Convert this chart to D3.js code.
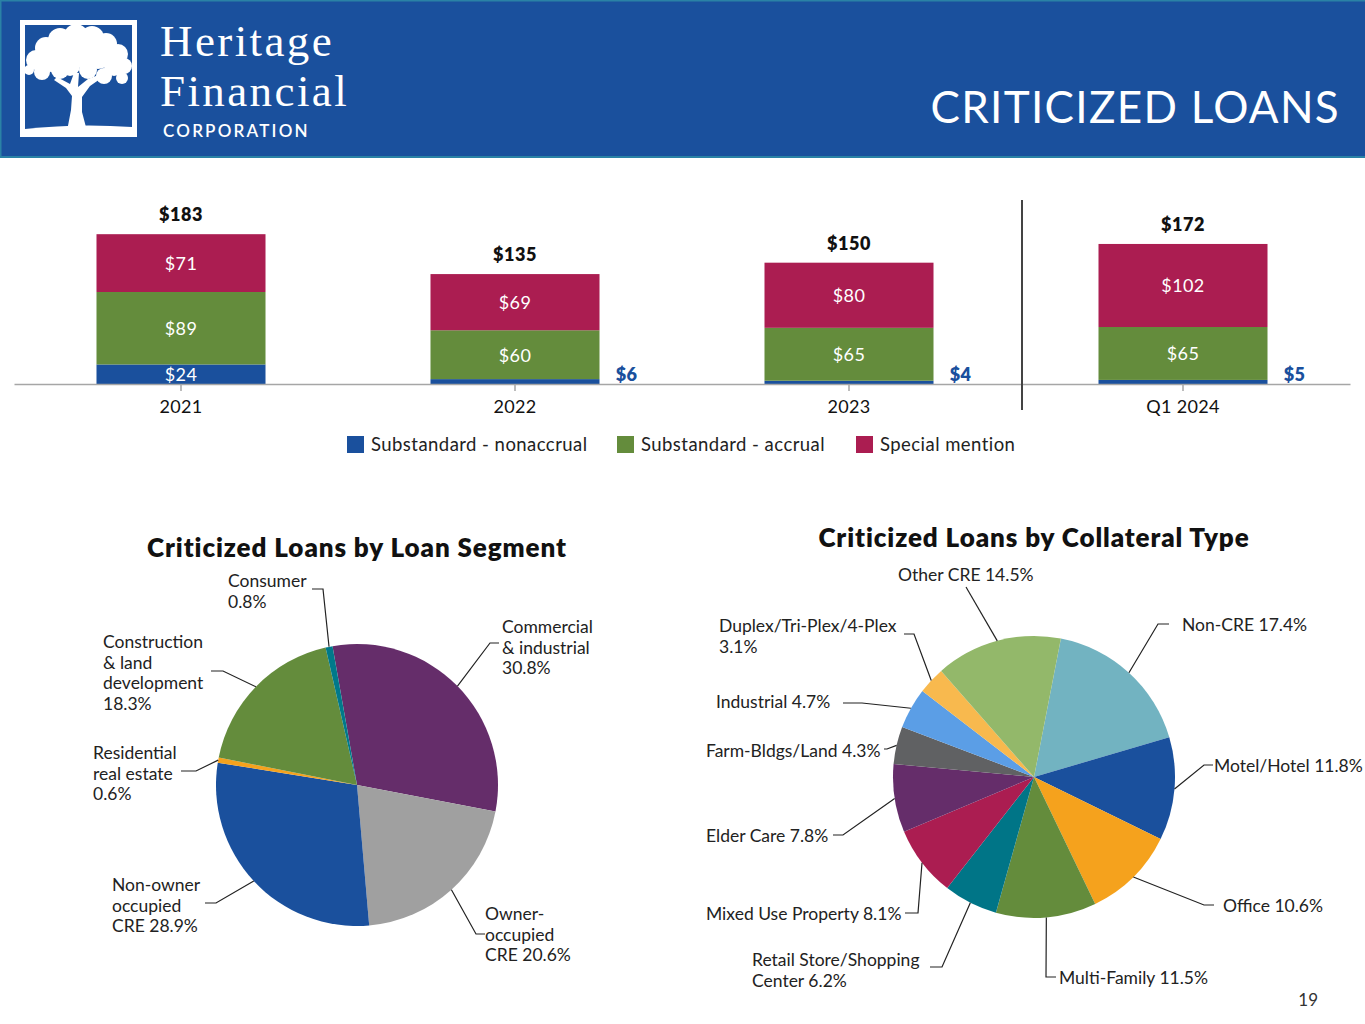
<!DOCTYPE html>
<html>
<head>
<meta charset="utf-8">
<script src="https://cdn.jsdelivr.net/npm/d3@7"></script>
<style>
  body { margin: 0; background: #fff; }
  svg { display: block; font-family: 'Lato', sans-serif; }
</style>
</head>
<body>
<div id="slide"></div>
<script>
// stacked bar data ($ millions)
const years = ['2021', '2022', '2023', 'Q1 2024'];
const nonaccrual = [24, 6, 4, 5];
const accrual = [89, 60, 65, 65];
const specialMention = [71, 69, 80, 102];
const totals = [183, 135, 150, 172];
const seriesNames = ['Substandard - nonaccrual', 'Substandard - accrual', 'Special mention'];
const seriesColors = ['#1a509d', '#648c3c', '#ab1d51'];

// pie 1: loan segment
const segmentNames = ['Commercial & industrial', 'Owner-occupied CRE', 'Non-owner occupied CRE',
    'Residential real estate', 'Construction & land development', 'Consumer'];
const segmentShares = [30.8, 20.6, 28.9, 0.6, 18.3, 0.8];
const segmentColors = ['#652d6a', '#a0a0a0', '#1a509d', '#f5a21d', '#648c3c', '#00798a'];

// pie 2: collateral type
const collateralNames = ['Non-CRE', 'Motel/Hotel', 'Office', 'Multi-Family', 'Retail Store/Shopping Center',
    'Mixed Use Property', 'Elder Care', 'Farm-Bldgs/Land', 'Industrial', 'Duplex/Tri-Plex/4-Plex', 'Other CRE'];
const collateralShares = [17.4, 11.8, 10.6, 11.5, 6.2, 8.1, 7.8, 4.3, 4.7, 3.1, 14.5];
const collateralColors = ['#72b3c1', '#1a509d', '#f5a21d', '#648c3c', '#007587', '#ab1d51',
    '#652d6a', '#606163', '#5b9ee6', '#f8b94e', '#93b86a'];

const W = 1365, H = 1024;
const svg = d3.select('#slide').append('svg').attr('width', W).attr('height', H);

// ---------- header ----------
const header = svg.append('g');
header.append('rect').attr('width', W).attr('height', 158).attr('fill', '#1a509d');
header.append('rect').attr('y', 156).attr('width', W).attr('height', 2).attr('fill', '#2a82a6');
header.append('rect').attr('width', W).attr('height', 1.5).attr('fill', '#2a82a6');
header.append('rect').attr('width', 1.5).attr('height', 158).attr('fill', '#2a82a6');

// logo box + tree
const logo = header.append('g');
logo.append('rect').attr('x', 22.5).attr('y', 22.5).attr('width', 112).attr('height', 112)
    .attr('fill', 'none').attr('stroke', '#fff').attr('stroke-width', 5);
const canopy = [[46, 48, 11], [60, 40, 12], [76, 36, 12], [92, 38, 12], [106, 44, 11], [118, 54, 10],
    [124, 66, 8], [36, 60, 10], [29, 70, 5], [52, 58, 14], [74, 52, 16], [98, 54, 15], [114, 66, 10],
    [42, 72, 8], [60, 70, 9], [88, 70, 9], [104, 76, 8], [122, 78, 6], [70, 66, 10]];
logo.selectAll('circle.leaf').data(canopy).enter().append('circle')
    .attr('class', 'leaf').attr('cx', d => d[0]).attr('cy', d => d[1]).attr('r', d => d[2]).attr('fill', '#fff');
logo.append('path')
    .attr('d', 'M67,131 L71,110 L72,96 L66,88 L54,80 L57,77 L70,84 L74,73 L79,73 L78,87 L88,79 L101,74 L103,77 L90,86 L82,97 L82,112 L87,131 Z')
    .attr('fill', '#fff');
logo.append('path').attr('d', 'M25,129 Q78,123 132,127 L132,132 L25,132 Z').attr('fill', '#fff');

header.append('text').attr('x', 160).attr('y', 56).attr('fill', '#fff')
    .style('font-family', "'Liberation Serif', serif").style('font-size', '45px').style('letter-spacing', '2.4px')
    .text('Heritage');
header.append('text').attr('x', 160).attr('y', 106).attr('fill', '#fff')
    .style('font-family', "'Liberation Serif', serif").style('font-size', '45px').style('letter-spacing', '2.4px')
    .text('Financial');
header.append('text').attr('x', 163).attr('y', 137).attr('fill', '#fff')
    .style('font-size', '17px').style('letter-spacing', '2.2px').style('font-weight', 600).text('CORPORATION');
header.append('text').attr('x', 1340).attr('y', 123).attr('fill', '#fff').attr('text-anchor', 'end')
    .style('font-size', '44px').style('letter-spacing', '1.3px').text('CRITICIZED LOANS');

// ---------- stacked bars ----------
const baseline = 384;
const x = d3.scaleBand().domain(years).range([14, 1350]).paddingInner(0.494).paddingOuter(0.247);
const y = d3.scaleLinear().domain([0, 200]).range([baseline, baseline - 200 * 0.8142]);

const rows = years.map((yr, i) => ({
    year: yr, nonaccrual: nonaccrual[i], accrual: accrual[i], special: specialMention[i], total: totals[i]
}));
const keys = ['nonaccrual', 'accrual', 'special'];
const stacked = d3.stack().keys(keys)(rows);

const bars = svg.append('g');
stacked.forEach((layer, li) => {
    bars.selectAll('.bar' + li).data(layer).enter().append('rect')
        .attr('x', d => x(d.data.year))
        .attr('y', d => y(d[1]))
        .attr('width', x.bandwidth())
        .attr('height', d => y(d[0]) - y(d[1]))
        .attr('fill', seriesColors[li]);

    // small segments get their label outside, to the right of the bar
    bars.selectAll('.lab' + li).data(layer).enter().append('text')
        .attr('x', d => (d[1] - d[0]) >= 10 ? x(d.data.year) + x.bandwidth() / 2 : x(d.data.year) + x.bandwidth() + 27)
        .attr('y', d => (d[1] - d[0]) >= 10 ? (y(d[0]) + y(d[1])) / 2 + 7 : baseline - 3)
        .attr('text-anchor', 'middle')
        .attr('fill', d => (d[1] - d[0]) >= 10 ? '#fff' : '#1a509d')
        .style('font-size', '18px').style('letter-spacing', '0.4px')
        .style('font-weight', d => (d[1] - d[0]) >= 10 ? 400 : 800)
        .text(d => '$' + (d[1] - d[0]));
});

// totals
bars.selectAll('.total').data(rows).enter().append('text')
    .attr('x', d => x(d.year) + x.bandwidth() / 2)
    .attr('y', d => y(d.nonaccrual + d.accrual + d.special) - 13)
    .attr('text-anchor', 'middle').attr('fill', '#111')
    .style('font-size', '18px').style('letter-spacing', '0.5px').style('font-weight', 800)
    .text(d => '$' + d.total);

// axis
const axis = svg.append('g').attr('transform', `translate(0,${baseline})`)
    .call(d3.axisBottom(x).tickSize(7).tickPadding(9).tickSizeOuter(0));
axis.select('.domain').attr('stroke', '#a6a6a6').attr('stroke-width', 1.5);
axis.selectAll('.tick line').attr('stroke', '#a6a6a6').attr('stroke-width', 1.5);
axis.selectAll('.tick text').style('font-size', '18px').style('letter-spacing', '0.3px')
    .style('font-family', "'Lato', sans-serif").attr('fill', '#111');

// divider between annual and quarter
svg.append('line').attr('x1', 1022).attr('x2', 1022).attr('y1', 200).attr('y2', 410)
    .attr('stroke', '#444').attr('stroke-width', 2);

// legend
const legendX = [347, 617, 856];
const legend = svg.append('g');
seriesNames.forEach((name, i) => {
    legend.append('rect').attr('x', legendX[i]).attr('y', 436).attr('width', 17).attr('height', 17).attr('fill', seriesColors[i]);
    legend.append('text').attr('x', legendX[i] + 24).attr('y', 451).attr('fill', '#222')
        .style('font-size', '18.5px').style('letter-spacing', '0.45px').text(name);
});

// ---------- pies ----------
const radius = 141;
const lineH = 20.5;
const deg = Math.PI / 180;

function drawPie(cfg) {
    const g = svg.append('g').attr('transform', `translate(${cfg.cx},${cfg.cy})`);
    const data = cfg.names.map((n, i) => ({ name: n, share: cfg.shares[i], color: cfg.colors[i], place: cfg.places[i] }));
    const pie = d3.pie().sort(null).value(d => d.share)
        .startAngle(cfg.start * deg).endAngle((cfg.start + 360) * deg);
    const arcs = pie(data);
    const arc = d3.arc().innerRadius(0).outerRadius(radius);
    const edge = d3.arc().innerRadius(radius).outerRadius(radius);

    g.selectAll('path.slice').data(arcs).enter().append('path')
        .attr('class', 'slice').attr('d', arc).attr('fill', d => d.data.color);

    g.selectAll('path.leader').data(arcs).enter().append('path')
        .attr('class', 'leader')
        .attr('d', d => {
            const p = d.data.place;
            return d3.line()([edge.centroid(d), p.elbow, p.end]);
        })
        .attr('fill', 'none').attr('stroke', '#222').attr('stroke-width', 1.2);

    const labels = g.selectAll('text.plabel').data(arcs).enter().append('text')
        .attr('class', 'plabel')
        .attr('x', d => d.data.place.tx).attr('y', d => d.data.place.ty)
        .attr('fill', '#222').style('font-size', '17.5px');
    labels.each(function (d) {
        const p = d.data.place;
        const lines = p.wrap.slice();
        const pct = d.data.share.toFixed(1) + '%';
        if (p.inline) lines[lines.length - 1] += ' ' + pct; else lines.push(pct);
        d3.select(this).selectAll('tspan').data(lines).enter().append('tspan')
            .attr('x', p.tx).attr('dy', (t, i) => i === 0 ? 0 : lineH).text(t => t);
    });

    svg.append('text').attr('x', cfg.cx).attr('y', cfg.titleY).attr('text-anchor', 'middle')
        .attr('fill', '#111').style('font-size', '26px').style('letter-spacing', '0.9px')
        .style('font-weight', 800).text(cfg.title);
}

// label layout, offsets from each pie centre
drawPie({
    cx: 357, cy: 785, start: -10, titleY: 557,
    title: 'Criticized Loans by Loan Segment',
    names: segmentNames, shares: segmentShares, colors: segmentColors,
    places: [
        { tx: 145, ty: -152, elbow: [133, -142], end: [142, -142], wrap: ['Commercial', '& industrial'] },
        { tx: 128, ty: 135, elbow: [119, 149], end: [128, 149], wrap: ['Owner-', 'occupied', 'CRE'], inline: true },
        { tx: -245, ty: 106, elbow: [-141, 118], end: [-152, 118], wrap: ['Non-owner', 'occupied', 'CRE'], inline: true },
        { tx: -264, ty: -26, elbow: [-161, -14], end: [-176, -14], wrap: ['Residential', 'real estate'] },
        { tx: -254, ty: -137, elbow: [-134, -114], end: [-146, -114], wrap: ['Construction', '& land', 'development'] },
        { tx: -129, ty: -198, elbow: [-34, -196], end: [-45, -196], wrap: ['Consumer'] }
    ]
});

drawPie({
    cx: 1034, cy: 777, start: 11, titleY: 547,
    title: 'Criticized Loans by Collateral Type',
    names: collateralNames, shares: collateralShares, colors: collateralColors,
    places: [
        { tx: 148, ty: -146, elbow: [124, -153], end: [135, -153], wrap: ['Non-CRE'], inline: true },
        { tx: 180, ty: -5, elbow: [170, -12], end: [179, -12], wrap: ['Motel/Hotel'], inline: true },
        { tx: 189, ty: 135, elbow: [170, 128], end: [180, 128], wrap: ['Office'], inline: true },
        { tx: 25, ty: 207, elbow: [12, 200], end: [22, 200], wrap: ['Multi-Family'], inline: true },
        { tx: -282, ty: 189, elbow: [-92, 190], end: [-104, 190], wrap: ['Retail Store/Shopping', 'Center'], inline: true },
        { tx: -328, ty: 143, elbow: [-116, 136], end: [-129, 136], wrap: ['Mixed Use Property'], inline: true },
        { tx: -328, ty: 65, elbow: [-191, 58], end: [-201, 58], wrap: ['Elder Care'], inline: true },
        { tx: -328, ty: -20, elbow: [-147, -28], end: [-150, -28], wrap: ['Farm-Bldgs/Land'], inline: true },
        { tx: -318, ty: -69, elbow: [-172, -74], end: [-191, -74], wrap: ['Industrial'], inline: true },
        { tx: -315, ty: -145, elbow: [-120, -143], end: [-130, -143], wrap: ['Duplex/Tri-Plex/4-Plex'] },
        { tx: -136, ty: -196, elbow: [-68, -190], end: [-68, -190], wrap: ['Other CRE'], inline: true }
    ]
});

// page number
svg.append('text').attr('x', 1318).attr('y', 1006).attr('text-anchor', 'end')
    .attr('fill', '#333').style('font-size', '17px').text('19');
</script>
</body>
</html>
